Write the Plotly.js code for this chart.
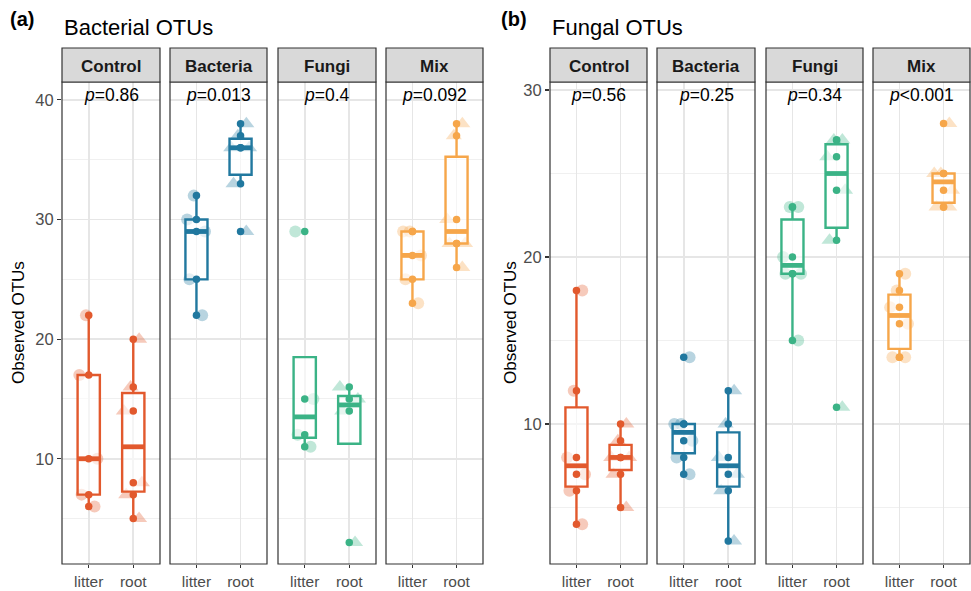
<!DOCTYPE html>
<html>
<head>
<meta charset="utf-8">
<script src="https://cdn.plot.ly/plotly-3.0.1.min.js"></script>
<style>
  html, body { margin: 0; padding: 0; background: #ffffff; }
  #chart { width: 971px; height: 591px; }
</style>
</head>
<body>
<div id="chart"></div>
<script>
// ---- categories and labels ----
const TREATMENTS = ['Control', 'Bacteria', 'Fungi', 'Mix'];
const COMPARTMENTS = ['litter', 'root'];
const P_BACTERIAL = ['=0.86', '=0.013', '=0.4', '=0.092'];
const P_FUNGAL = ['=0.56', '=0.25', '=0.34', '<0.001'];

// ---- observed OTUs per sample: bacterial communities ----
const bacControlLitter  = [22, 17, 10, 7, 6];
const bacControlRoot    = [20, 16, 14, 8, 7, 5];
const bacBacteriaLitter = [32, 30, 29, 25, 22];
const bacBacteriaRoot   = [38, 37, 36, 36, 33, 29];
const bacFungiLitter    = [29, 15, 12, 11];
const bacFungiRoot      = [16, 15, 14, 3];
const bacMixLitter      = [29, 29, 27, 25, 23];
const bacMixRoot        = [38, 37, 30, 28, 28, 26];

// ---- observed OTUs per sample: fungal communities ----
const funControlLitter  = [18, 12, 8, 7, 6, 4];
const funControlRoot    = [10, 9, 8, 8, 7, 5];
const funBacteriaLitter = [14, 10, 10, 9, 8, 7];
const funBacteriaRoot   = [12, 10, 8, 7, 6, 3];
const funFungiLitter    = [23, 23, 20, 19, 19, 15];
const funFungiRoot      = [27, 27, 26, 24, 21, 11];
const funMixLitter      = [19, 18, 17, 16, 14, 14];
const funMixRoot        = [28, 25, 25, 24, 23, 23];

// ---- styling ----
const COLORS = ['#E2592D', '#21789F', '#3BB386', '#F6A64A'];
const FONT = 'Liberation Sans, Arial, Helvetica, sans-serif';
const W = 971, H = 591;

// groups in facet order: [litter, root] per treatment
const BACTERIAL = [
  [bacControlLitter, bacControlRoot],
  [bacBacteriaLitter, bacBacteriaRoot],
  [bacFungiLitter, bacFungiRoot],
  [bacMixLitter, bacMixRoot]
];
const FUNGAL = [
  [funControlLitter, funControlRoot],
  [funBacteriaLitter, funBacteriaRoot],
  [funFungiLitter, funFungiRoot],
  [funMixLitter, funMixRoot]
];

// facet pixel extents (left, right) and vertical extents
const FACET_X = [[62, 160], [170, 267], [278, 376], [386, 483],
                 [550, 647], [657, 755], [766, 863], [873, 970]];
const PLOT_TOP = 82, PLOT_BOTTOM = 564, STRIP_TOP = 48;
const px = x => x / W;
const py = y => 1 - y / H;

const BOX_W = 0.5;

function rgba(hex, a) {
  const n = parseInt(hex.slice(1), 16);
  return `rgba(${(n >> 16) & 255},${(n >> 8) & 255},${n & 255},${a})`;
}

// Tukey boxplot statistics (type-7 quantiles, 1.5 IQR whiskers)
function quantile(sorted, p) {
  const h = (sorted.length - 1) * p;
  const lo = Math.floor(h), hi = Math.ceil(h);
  return sorted[lo] + (h - lo) * (sorted[hi] - sorted[lo]);
}
function boxStats(values) {
  const s = values.slice().sort((a, b) => a - b);
  const q1 = quantile(s, 0.25), med = quantile(s, 0.5), q3 = quantile(s, 0.75);
  const iqr = q3 - q1;
  const inside = s.filter(v => v >= q1 - 1.5 * iqr && v <= q3 + 1.5 * iqr);
  let lo = Math.min(...inside), hi = Math.max(...inside);
  if (lo > q1) lo = q1;
  if (hi < q3) hi = q3;
  return { q1, med, q3, lo, hi };
}

const traces = [];
const shapes = [];
const annotations = [];
const layout = {
  width: W, height: H,
  margin: { l: 0, r: 0, t: 0, b: 0 },
  paper_bgcolor: '#ffffff', plot_bgcolor: '#ffffff',
  showlegend: false,
  boxmode: 'overlay',
  font: { family: FONT, color: '#000000' },
  shapes, annotations
};

const panels = [
  { groups: BACTERIAL, pvals: P_BACTERIAL, range: [1.2, 41.5], yid: 'y', yname: 'yaxis', first: 0 },
  { groups: FUNGAL, pvals: P_FUNGAL, range: [1.62, 30.48], yid: 'y2', yname: 'yaxis2', first: 4 }
];

const GRID = '#E6E6E6';
const MINOR_GRID = '#F0F0F0';

panels.forEach(panel => {
  const firstX = panel.first === 0 ? 'x' : 'x' + (panel.first + 1);
  layout[panel.yname] = {
    domain: [py(PLOT_BOTTOM), py(PLOT_TOP)],
    range: panel.range,
    anchor: firstX,
    dtick: 10, tick0: 0,
    showgrid: true, gridcolor: GRID, gridwidth: 1.8,
    minor: { dtick: 5, tick0: 0, showgrid: true, gridcolor: MINOR_GRID, gridwidth: 1 },
    ticks: 'outside', ticklen: 4, tickwidth: 1.1, tickcolor: '#333333',
    tickfont: { family: FONT, size: 16.5, color: '#4D4D4D' },
    zeroline: false, showline: false, fixedrange: true
  };

  panel.groups.forEach((pair, t) => {
    const fi = panel.first + t;
    const xid = fi === 0 ? 'x' : 'x' + (fi + 1);
    const xname = fi === 0 ? 'xaxis' : 'xaxis' + (fi + 1);
    const [x0, x1] = FACET_X[fi];
    layout[xname] = {
      domain: [px(x0), px(x1)],
      range: [0.4, 2.6],
      anchor: panel.yid,
      tickvals: [1, 2], ticktext: COMPARTMENTS,
      showgrid: true, gridcolor: GRID, gridwidth: 1.8,
      ticks: 'outside', ticklen: 3, tickwidth: 1.1, tickcolor: '#333333',
      tickfont: { family: FONT, size: 15.5, color: '#4D4D4D' },
      zeroline: false, showline: false, fixedrange: true
    };
    const color = COLORS[t];

    // light jittered sample markers (box layer, drawn beneath the boxes)
    pair.forEach((vals, j) => {
      traces.push({
        type: 'box', xaxis: xid, yaxis: panel.yid,
        x0: j + 1, y: vals,
        boxpoints: 'all', jitter: 1, pointpos: 0, width: BOX_W,
        line: { width: 0, color: 'rgba(0,0,0,0)' },
        fillcolor: 'rgba(0,0,0,0)', whiskerwidth: 0,
        marker: {
          color: rgba(color, 0.32),
          size: j === 0 ? 12 : 14,
          symbol: j === 0 ? 'circle' : 'triangle-up',
          line: { width: 0 }
        },
        hoverinfo: 'skip'
      });
    });

    // boxes with Tukey whiskers
    pair.forEach((vals, j) => {
      const s = boxStats(vals);
      traces.push({
        type: 'box', orientation: 'v', xaxis: xid, yaxis: panel.yid,
        x: [j + 1], q1: [s.q1], median: [s.med], q3: [s.q3],
        lowerfence: [s.lo], upperfence: [s.hi],
        width: BOX_W, whiskerwidth: 0, boxpoints: false,
        line: { color: color, width: 2.4 },
        fillcolor: 'rgba(255,255,255,0.6)',
        hoverinfo: 'skip'
      });
      // heavier median bar
      traces.push({
        type: 'scatter', mode: 'lines', xaxis: xid, yaxis: panel.yid,
        x: [j + 1 - BOX_W / 2, j + 1 + BOX_W / 2], y: [s.med, s.med],
        line: { color: color, width: 4.8 }, hoverinfo: 'skip'
      });
      // sample points
      traces.push({
        type: 'scatter', mode: 'markers', xaxis: xid, yaxis: panel.yid,
        x: vals.map(() => j + 1), y: vals,
        marker: { color: color, size: 7.5, line: { width: 0 } },
        hoverinfo: 'skip'
      });
    });

    // panel border
    shapes.push({
      type: 'rect', xref: xid + ' domain', yref: 'paper',
      x0: 0, x1: 1, y0: py(PLOT_BOTTOM), y1: py(PLOT_TOP),
      line: { color: '#333333', width: 1.2 }, fillcolor: 'rgba(0,0,0,0)', layer: 'above'
    });
    // facet strip
    shapes.push({
      type: 'rect', xref: xid + ' domain', yref: 'paper',
      x0: 0, x1: 1, y0: py(PLOT_TOP), y1: py(STRIP_TOP),
      line: { color: '#333333', width: 1.2 }, fillcolor: '#D9D9D9', layer: 'above'
    });
    annotations.push({
      xref: xid + ' domain', yref: 'paper', x: 0.5, y: py((PLOT_TOP + STRIP_TOP) / 2 + 1),
      xanchor: 'center', yanchor: 'middle', showarrow: false,
      text: '<b>' + TREATMENTS[t] + '</b>',
      font: { family: FONT, size: 17, color: '#1A1A1A' }
    });
    // p-value label
    annotations.push({
      xref: xid + ' domain', yref: 'paper', x: 0.5, y: py(95),
      xanchor: 'center', yanchor: 'middle', showarrow: false,
      text: '<i>p</i>' + panel.pvals[t],
      font: { family: FONT, size: 17.5, color: '#000000' }
    });
  });
});

// panel labels, titles and y-axis titles
const headers = [
  { tag: '(a)', title: 'Bacterial OTUs', tagX: 8, titleX: 62, ytitleX: 18 },
  { tag: '(b)', title: 'Fungal OTUs', tagX: 499, titleX: 550, ytitleX: 510 }
];
headers.forEach(h => {
  annotations.push({
    xref: 'paper', yref: 'paper', x: px(h.tagX), y: py(19),
    xanchor: 'left', yanchor: 'middle', showarrow: false,
    text: '<b>' + h.tag + '</b>', font: { family: FONT, size: 20, color: '#000000' }
  });
  annotations.push({
    xref: 'paper', yref: 'paper', x: px(h.titleX), y: py(28),
    xanchor: 'left', yanchor: 'middle', showarrow: false,
    text: h.title, font: { family: FONT, size: 22, color: '#000000' }
  });
  annotations.push({
    xref: 'paper', yref: 'paper', x: px(h.ytitleX), y: py((PLOT_TOP + PLOT_BOTTOM) / 2),
    xanchor: 'center', yanchor: 'middle', showarrow: false, textangle: -90,
    text: 'Observed OTUs', font: { family: FONT, size: 17, color: '#000000' }
  });
});

Plotly.newPlot('chart', traces, layout, { displayModeBar: false, staticPlot: true });
</script>
</body>
</html>
